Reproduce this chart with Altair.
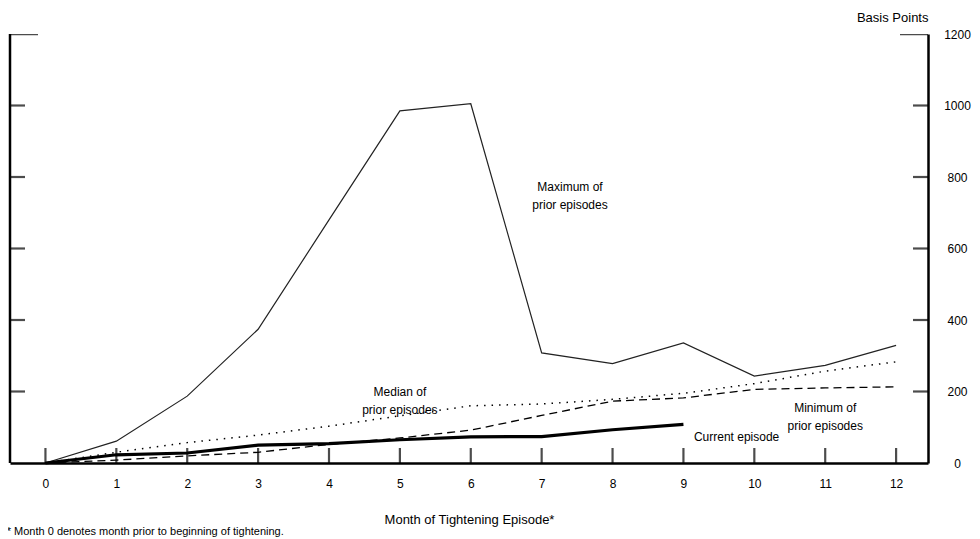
import altair as alt
import pandas as pd

# ---- data ----
months = list(range(13))
maximum = [0, 61, 187, 374, 680, 985, 1005, 308, 278, 336, 243, 273, 329]
median = [0, 30, 57, 78, 103, 132, 160, 165, 178, 195, 222, 257, 283]
minimum = [0, 8, 20, 30, 52, 70, 92, 133, 173, 182, 206, 210, 213]
current_months = list(range(10))
current = [0, 23, 28, 50, 54, 65, 73, 74, 93, 108]

x_ticks = list(range(13))
y_labels = [0, 200, 400, 600, 800, 1000, 1200]
y_inner_ticks = [200, 400, 600, 800, 1000]
y_top_tick = [1200]

ann_x = [7.4, 5.0, 11.0, 9.75]
ann_y = [771, 199, 155, 74]
ann_text = [["Maximum of", "prior episodes"],
            ["Median of", "prior episodes"],
            ["Minimum of", "prior episodes"],
            ["Current episode"]]

x_domain = [-0.5, 12.45]
y_domain = [0, 1200]

FONT = "Liberation Sans"

xs = alt.Scale(domain=x_domain, nice=False, zero=False)
ys = alt.Scale(domain=y_domain, nice=False, zero=False)

x_axis = alt.Axis(values=x_ticks, title="Month of Tightening Episode*",
                  labelPadding=20, labelBaseline="middle", titlePadding=24,
                  labelFlush=False)
y_axis = alt.Axis(values=y_labels, orient="right", labelAlign="center",
                  labelPadding=29, title="Basis Points", titleAngle=0,
                  titleX=0, titleY=-17, titleAlign="right", format="d",
                  titleBaseline="middle", labelFlush=False)


def X(field):
    return alt.X(field, type="quantitative", scale=xs, axis=x_axis)


def Y(field):
    return alt.Y(field, type="quantitative", scale=ys, axis=y_axis)


def series_line(xvals, yvals, **mark):
    df = pd.DataFrame({"month": xvals, "value": yvals})
    return alt.Chart(df).mark_line(**mark).encode(
        x=X("month"), y=Y("value"))


max_line = series_line(months, maximum, strokeWidth=1.2, color="#222222")
med_line = series_line(months, median, strokeWidth=1.5, strokeDash=[1.5, 6],
                       color="black")
min_line = series_line(months, minimum, strokeWidth=1.3, strokeDash=[8, 5],
                       color="black")
cur_line = series_line(current_months, current, strokeWidth=3.2,
                       color="black")

xt = alt.Chart(pd.DataFrame({"month": x_ticks})).mark_tick(
    orient="vertical", size=30, thickness=2.2, color="black", clip=True
).encode(x=X("month"), y=alt.Y(datum=0, scale=ys, axis=y_axis))

yt_df = pd.DataFrame({"value": y_inner_ticks})
ytl = alt.Chart(yt_df).mark_tick(
    orient="horizontal", size=30, thickness=2.2, color="black", clip=True
).encode(x=alt.X(datum=x_domain[0], scale=xs, axis=x_axis), y=Y("value"))
ytr = alt.Chart(yt_df).mark_tick(
    orient="horizontal", size=30, thickness=2.2, color="black", clip=True
).encode(x=alt.X(datum=x_domain[1], scale=xs, axis=x_axis), y=Y("value"))

top_df = pd.DataFrame({"value": y_top_tick})
ttl = alt.Chart(top_df).mark_tick(
    orient="horizontal", size=56, thickness=2.4, color="black", clip=True
).encode(x=alt.X(datum=x_domain[0], scale=xs, axis=x_axis), y=Y("value"))
ttr = alt.Chart(top_df).mark_tick(
    orient="horizontal", size=56, thickness=2.4, color="black", clip=True
).encode(x=alt.X(datum=x_domain[1], scale=xs, axis=x_axis), y=Y("value"))

left_rule = alt.Chart(top_df).mark_rule(color="black", strokeWidth=2.5).encode(
    x=alt.X(datum=x_domain[0], scale=xs, axis=x_axis),
    y=alt.Y(datum=y_domain[0], scale=ys, axis=y_axis),
    y2=alt.Y2(datum=y_domain[1]))

ann_df = pd.DataFrame({"month": ann_x, "value": ann_y, "text": ann_text})
ann = alt.Chart(ann_df).mark_text(
    align="center", baseline="middle", fontSize=12, lineHeight=18,
    font=FONT, color="black"
).encode(x=X("month"), y=Y("value"), text="text")

chart = alt.layer(
    max_line, med_line, min_line, cur_line, xt, ytl, ytr, ttl, ttr,
    left_rule, ann
).properties(
    width=918, height=429,
    autosize=alt.AutoSizeParams(type="none"),
    padding={"left": 2, "top": 26, "right": 44, "bottom": 74},
    title=alt.TitleParams(
        "* Month 0 denotes month prior to beginning of tightening.",
        orient="bottom", anchor="start", fontSize=11, fontWeight="normal",
        font=FONT, color="black", offset=0, dx=-2),
).configure_axis(
    grid=False, ticks=False, tickSize=0, domainColor="black", domainWidth=2.5,
    labelFont=FONT, labelFontSize=12, labelColor="black",
    titleFont=FONT, titleFontSize=13, titleFontWeight="normal",
    titleColor="black",
).configure_view(stroke=None)

chart.save("out.html", embed_options={"renderer": "svg", "actions": False})
